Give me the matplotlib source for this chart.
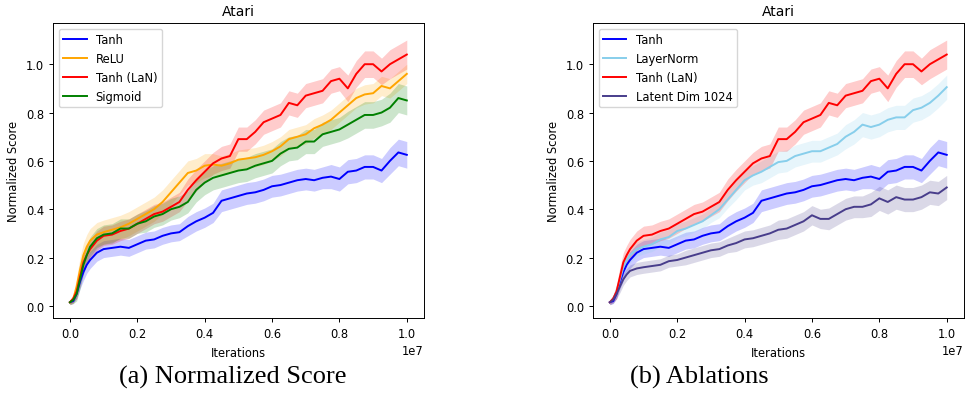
import numpy as np
import matplotlib.pyplot as plt

# iteration grid (in units of 1e7)
steps = [0, 0.01, 0.02, 0.03, 0.04, 0.05, 0.06, 0.08,
         0.10, 0.125, 0.15, 0.175, 0.20, 0.225, 0.25, 0.275,
         0.30, 0.325, 0.35, 0.375, 0.40, 0.425, 0.45, 0.475,
         0.50, 0.525, 0.55, 0.575, 0.60, 0.625, 0.65, 0.675,
         0.70, 0.725, 0.75, 0.775, 0.80, 0.825, 0.85, 0.875,
         0.90, 0.925, 0.95, 0.975, 1.00]

tanh = [0.015, 0.02, 0.05, 0.10, 0.14, 0.17, 0.19, 0.22,
        0.235, 0.24, 0.245, 0.24, 0.255, 0.27, 0.275, 0.29,
        0.30, 0.305, 0.33, 0.35, 0.365, 0.385, 0.435, 0.445,
        0.455, 0.465, 0.47, 0.48, 0.495, 0.50, 0.51, 0.52,
        0.525, 0.52, 0.53, 0.535, 0.525, 0.555, 0.56, 0.575,
        0.575, 0.56, 0.60, 0.635, 0.625]
relu = [0.015, 0.03, 0.08, 0.15, 0.21, 0.245, 0.27, 0.295,
        0.305, 0.315, 0.325, 0.34, 0.36, 0.38, 0.40, 0.43,
        0.47, 0.51, 0.55, 0.56, 0.58, 0.585, 0.58, 0.59,
        0.605, 0.61, 0.615, 0.625, 0.64, 0.66, 0.69, 0.70,
        0.71, 0.735, 0.75, 0.77, 0.80, 0.83, 0.86, 0.875,
        0.88, 0.91, 0.90, 0.93, 0.96]
tanh_lan = [0.015, 0.03, 0.06, 0.12, 0.18, 0.21, 0.235, 0.27,
            0.29, 0.295, 0.31, 0.32, 0.34, 0.36, 0.38, 0.39,
            0.41, 0.43, 0.48, 0.52, 0.555, 0.59, 0.61, 0.62,
            0.69, 0.69, 0.72, 0.76, 0.775, 0.79, 0.84, 0.83,
            0.87, 0.88, 0.89, 0.93, 0.94, 0.90, 0.96, 1.00,
            1.00, 0.97, 1.00, 1.02, 1.04]
sigmoid = [0.015, 0.025, 0.05, 0.11, 0.17, 0.21, 0.245, 0.28,
           0.295, 0.30, 0.32, 0.32, 0.34, 0.35, 0.37, 0.38,
           0.40, 0.41, 0.43, 0.48, 0.51, 0.53, 0.54, 0.55,
           0.56, 0.565, 0.58, 0.59, 0.60, 0.63, 0.65, 0.655,
           0.68, 0.68, 0.71, 0.72, 0.73, 0.75, 0.77, 0.79,
           0.79, 0.80, 0.82, 0.86, 0.85]
layernorm = [0.015, 0.03, 0.06, 0.11, 0.16, 0.19, 0.21, 0.235,
             0.245, 0.255, 0.275, 0.285, 0.31, 0.32, 0.335, 0.35,
             0.375, 0.40, 0.44, 0.48, 0.52, 0.54, 0.555, 0.575,
             0.595, 0.60, 0.62, 0.63, 0.64, 0.64, 0.655, 0.67,
             0.70, 0.72, 0.75, 0.74, 0.75, 0.77, 0.78, 0.78,
             0.81, 0.82, 0.84, 0.87, 0.905]
latent1024 = [0.015, 0.025, 0.05, 0.08, 0.11, 0.13, 0.145, 0.155,
              0.16, 0.165, 0.17, 0.185, 0.19, 0.20, 0.21, 0.22,
              0.23, 0.235, 0.25, 0.26, 0.275, 0.28, 0.29, 0.30,
              0.315, 0.32, 0.335, 0.35, 0.375, 0.36, 0.36, 0.38,
              0.40, 0.41, 0.41, 0.42, 0.445, 0.43, 0.45, 0.44,
              0.44, 0.45, 0.47, 0.465, 0.49]

# half-width of the shaded bands
tanh_band = [0.01, 0.01, 0.02, 0.03, 0.035, 0.035, 0.035, 0.035,
             0.035, 0.035, 0.035, 0.035, 0.035, 0.035, 0.035, 0.035,
             0.035, 0.035, 0.04, 0.04, 0.04, 0.04, 0.045, 0.045,
             0.045, 0.045, 0.045, 0.045, 0.045, 0.045, 0.045, 0.045,
             0.045, 0.045, 0.045, 0.05, 0.05, 0.05, 0.05, 0.05,
             0.05, 0.05, 0.055, 0.055, 0.055]
relu_band = [0.01, 0.02, 0.04, 0.05, 0.05, 0.05, 0.05, 0.05,
             0.05, 0.05, 0.05, 0.05, 0.05, 0.05, 0.05, 0.05,
             0.05, 0.05, 0.05, 0.05, 0.05, 0.045, 0.04, 0.04,
             0.04, 0.04, 0.04, 0.04, 0.04, 0.04, 0.04, 0.04,
             0.04, 0.04, 0.04, 0.04, 0.04, 0.04, 0.04, 0.04,
             0.04, 0.04, 0.04, 0.04, 0.04]
tanh_lan_band = [0.01, 0.015, 0.03, 0.04, 0.04, 0.04, 0.04, 0.04,
                 0.04, 0.04, 0.04, 0.04, 0.04, 0.04, 0.04, 0.04,
                 0.04, 0.04, 0.045, 0.045, 0.045, 0.045, 0.05, 0.05,
                 0.05, 0.05, 0.05, 0.05, 0.05, 0.05, 0.05, 0.05,
                 0.05, 0.05, 0.05, 0.05, 0.05, 0.055, 0.055, 0.055,
                 0.055, 0.055, 0.06, 0.06, 0.06]
sigmoid_band = [0.01, 0.015, 0.03, 0.04, 0.04, 0.04, 0.04, 0.04,
                0.04, 0.04, 0.04, 0.04, 0.04, 0.045, 0.045, 0.045,
                0.045, 0.045, 0.045, 0.05, 0.05, 0.05, 0.05, 0.05,
                0.05, 0.05, 0.05, 0.05, 0.05, 0.05, 0.05, 0.05,
                0.05, 0.05, 0.05, 0.05, 0.05, 0.055, 0.055, 0.055,
                0.055, 0.055, 0.06, 0.06, 0.06]
layernorm_band = [0.01, 0.015, 0.025, 0.03, 0.03, 0.03, 0.03, 0.03,
                  0.03, 0.03, 0.03, 0.03, 0.03, 0.03, 0.03, 0.03,
                  0.03, 0.035, 0.035, 0.04, 0.04, 0.04, 0.045, 0.045,
                  0.045, 0.045, 0.045, 0.045, 0.045, 0.045, 0.045, 0.045,
                  0.05, 0.05, 0.05, 0.05, 0.05, 0.05, 0.05, 0.05,
                  0.05, 0.05, 0.05, 0.05, 0.05]
latent1024_band = [0.01, 0.015, 0.02, 0.025, 0.025, 0.025, 0.025, 0.025,
                   0.025, 0.025, 0.025, 0.025, 0.025, 0.03, 0.03, 0.03,
                   0.03, 0.03, 0.03, 0.035, 0.035, 0.035, 0.035, 0.035,
                   0.04, 0.04, 0.04, 0.04, 0.04, 0.04, 0.045, 0.045,
                   0.045, 0.045, 0.045, 0.05, 0.05, 0.05, 0.05, 0.05,
                   0.05, 0.05, 0.05, 0.05, 0.05]

iters = np.array(steps) * 1e7

plt.rcParams['font.size'] = 8.3

fig = plt.figure(figsize=(9.65, 4.02), dpi=100)
ax1 = fig.add_axes([0.055, 0.2065, 0.384, 0.7335])
ax2 = fig.add_axes([0.6145, 0.2065, 0.384, 0.7335])

left = [("Tanh", tanh, tanh_band, "blue"),
        ("ReLU", relu, relu_band, "orange"),
        ("Tanh (LaN)", tanh_lan, tanh_lan_band, "red"),
        ("Sigmoid", sigmoid, sigmoid_band, "green")]
right = [("Tanh", tanh, tanh_band, "blue"),
         ("LayerNorm", layernorm, layernorm_band, "skyblue"),
         ("Tanh (LaN)", tanh_lan, tanh_lan_band, "red"),
         ("Latent Dim 1024", latent1024, latent1024_band, "darkslateblue")]

for ax, series in [(ax1, left), (ax2, right)]:
    for name, vals, band, col in series:
        vals = np.array(vals)
        band = np.array(band)
        ax.plot(iters, vals, color=col, lw=1.4, label=name)
        ax.fill_between(iters, vals - band, vals + band, color=col,
                        alpha=0.2, lw=0)
    ax.set_title("Atari", fontsize=10)
    ax.set_xlabel("Iterations")
    ax.set_ylabel("Normalized Score")
    ax.set_ylim(-0.05, 1.17)
    ax.legend(loc="upper left", fontsize=8.3)
    for s in ax.spines.values():
        s.set_linewidth(0.7)
    ax.tick_params(width=0.7, length=3)

fig.text(0.241, 0.06, "(a) Normalized Score", family="Liberation Serif",
         fontsize=19, ha="center", va="center")
fig.text(0.725, 0.06, "(b) Ablations", family="Liberation Serif",
         fontsize=19, ha="center", va="center")

fig.savefig("out.png", dpi=100)
